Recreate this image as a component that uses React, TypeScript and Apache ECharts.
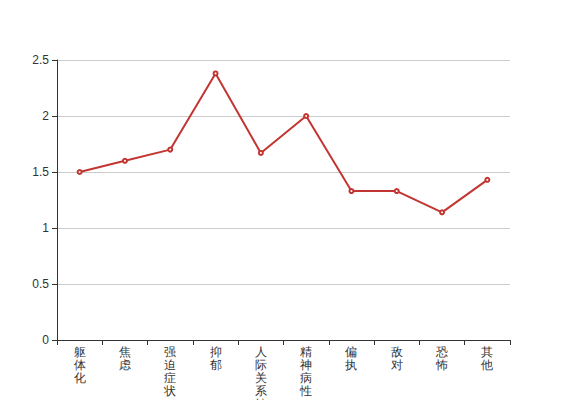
import React, { useEffect, useRef } from "react";
import * as echarts from "echarts";

const categories = ["躯体化", "焦虑", "强迫症状", "抑郁", "人际关系敏感", "精神病性", "偏执", "敌对", "恐怖", "其他"];
const values = [1.5, 1.6, 1.7, 2.38, 1.67, 2.0, 1.33, 1.33, 1.14, 1.43];

export default function App() {
  const ref = useRef<HTMLDivElement>(null);
  useEffect(() => {
    const chart = echarts.init(ref.current!, null, { renderer: "svg" });
    chart.setOption({
      animation: false,
      grid: { left: 57, right: 57, top: 60, bottom: 60, containLabel: false, outerBoundsMode: "none" },
      xAxis: {
        type: "category",
        data: categories,
        boundaryGap: true,
        axisLine: { show: true, lineStyle: { color: "#333" } },
        axisTick: { show: true, lineStyle: { color: "#333" } },
        axisLabel: {
          color: "#333",
          fontSize: 12,
          lineHeight: 13,
          margin: 5,
          fontFamily: "sans-serif",
          interval: 0,
          formatter: (v: string) => v.split("").join("\n"),
        },
        splitLine: { show: false },
      },
      yAxis: {
        type: "value",
        min: 0,
        max: 2.5,
        interval: 0.5,
        axisLine: { show: true, lineStyle: { color: "#333" } },
        axisTick: { show: true, lineStyle: { color: "#333" } },
        axisLabel: { color: "#333", fontSize: 12, fontFamily: "sans-serif" },
        splitLine: { show: true, lineStyle: { color: "#ccc" } },
      },
      series: [
        {
          type: "line",
          data: values,
          symbol: "emptyCircle",
          symbolSize: 4,
          itemStyle: { color: "#c23531", borderWidth: 1 },
          lineStyle: { color: "#c23531", width: 2 },
        },
      ],
    });
    return () => chart.dispose();
  }, []);
  return <div ref={ref} style={{ width: 567, height: 400, position: "absolute", left: 0, top: 0 }} />;
}
